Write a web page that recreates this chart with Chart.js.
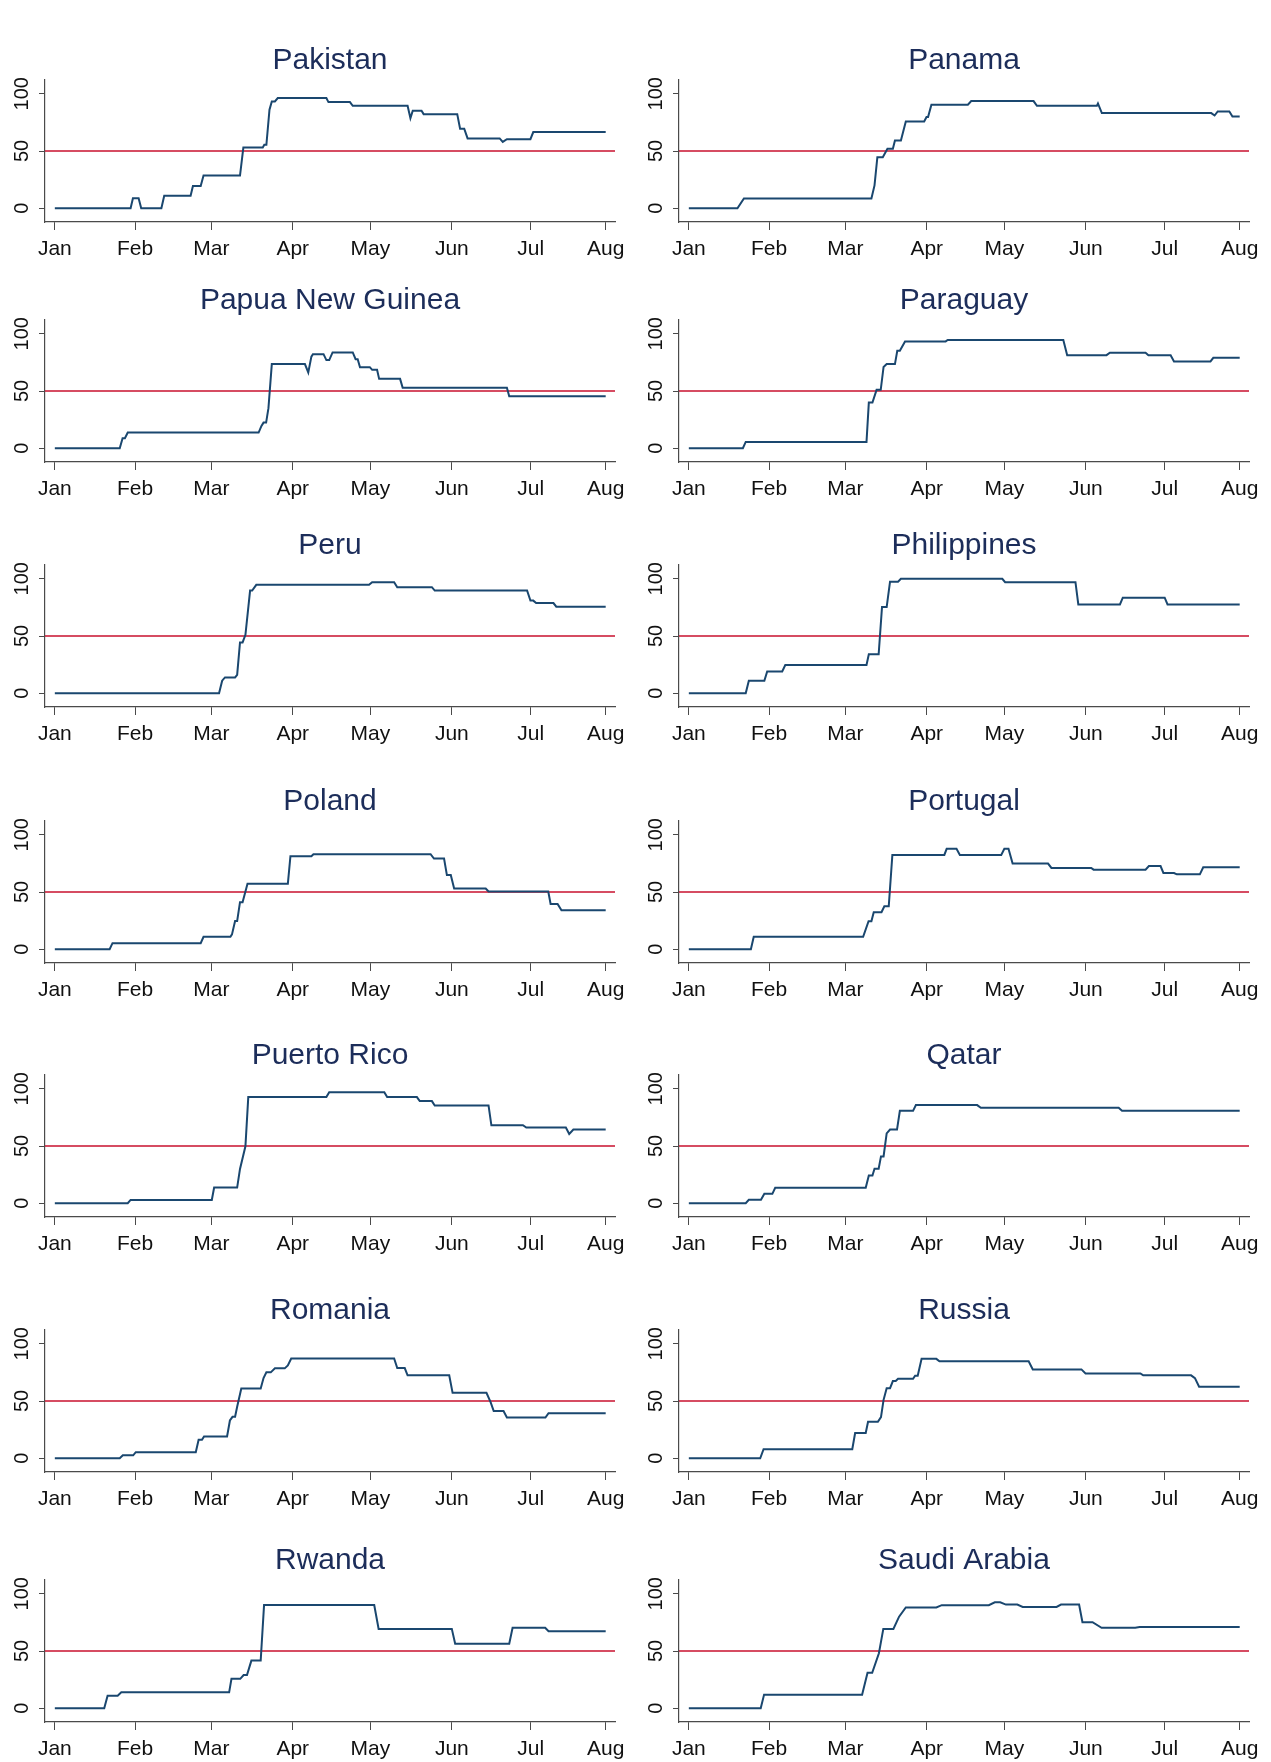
<!DOCTYPE html>
<html>
<head>
<meta charset="utf-8">
<script src="https://cdn.jsdelivr.net/npm/chart.js@4.4.0/dist/chart.umd.min.js"></script>
<style>
  body { margin: 0; background: #fff; }
  #page { position: relative; width: 1271px; height: 1762px; overflow: hidden; }
  #page canvas { position: absolute; }
</style>
</head>
<body>
<div id="page"></div>
<script>
// ---- data: day of year 2020 (0 = Jan 1) and index value ----
const countries = ['Pakistan', 'Panama', 'Papua New Guinea', 'Paraguay', 'Peru', 'Philippines', 'Poland',
  'Portugal', 'Puerto Rico', 'Qatar', 'Romania', 'Russia', 'Rwanda', 'Saudi Arabia'];

const monthTicks = [0, 31, 60.5, 92, 122, 153.5, 184, 213];
const monthLabels = ['Jan', 'Feb', 'Mar', 'Apr', 'May', 'Jun', 'Jul', 'Aug'];
const yTicks = [0, 50, 100];
const yTickLabels = ['0', '50', '100'];
const refValue = 50;

const pakistan = [[0,0],[29.3,0],[30.2,8.7],[32.4,8.7],[33.4,0],[41.2,0],[42.3,11],[52.5,11],[53.4,19.5],[56.4,19.5],[57.5,28.6],[71.6,28.6],[72.9,53],[80.4,53],[81,55.4],[81.8,55.4],[83,86],[83.9,93.3],[85.1,93.3],[86.2,96.2],[105,96.2],[105.8,92.7],[114.1,92.7],[115.2,89.5],[136.4,89.5],[137.5,78.7],[138.4,85.1],[141.8,85.1],[142.6,82.2],[155.6,82.2],[156.7,69.4],[158.3,69.4],[159.6,61],[172,61],[173.2,58],[174.8,60.3],[183.9,60.3],[185,66.5],[213,66.5]];
const panama = [[0,0],[18.8,0],[21.3,8.5],[70.6,8.5],[71.8,20],[72.9,44.6],[75,44.6],[76.8,51.9],[78.9,51.9],[79.7,59.2],[82,59.2],[83.9,75.8],[91,75.8],[91.9,79.6],[92.5,79.6],[93.8,90.4],[107.9,90.4],[109.2,93.6],[133.3,93.6],[134.6,89.5],[157.8,89.5],[158.2,91.5],[159.7,83.1],[202,83.1],[203.3,81],[204.5,84.5],[209,84.5],[210.2,80.2],[213,80.2]];
const papuaNewGuinea = [[0,0],[25.1,0],[26.2,8.7],[27.1,8.7],[28.2,13.7],[78.8,13.7],[79.9,19.5],[80.7,22.4],[81.7,22.4],[82.6,35],[83.9,73.5],[96.7,73.5],[98,66.2],[99.2,80],[99.8,82.2],[103.9,82.2],[105,77],[106.1,77],[107.4,83.7],[115.2,83.7],[116.3,77.8],[117.1,77.8],[118,70.8],[121.8,70.8],[122.7,68.5],[124.6,68.5],[125.4,60.6],[133.5,60.6],[134.5,52.8],[174.8,52.8],[175.7,45.5],[213,45.5]];
const paraguay = [[0,0],[20.9,0],[22,5.5],[68.7,5.5],[69.6,39.9],[71,39.9],[72.6,51],[74.2,51],[75.3,71],[76.5,73.5],[79.7,73.5],[80.6,85.1],[81.6,85.1],[83.6,93.3],[99.3,93.3],[100.1,94.5],[144.8,94.5],[146.3,81.3],[161.5,81.3],[162.8,83.4],[176.6,83.4],[177.7,81.3],[186.3,81.3],[187.6,75.8],[201.7,75.8],[202.8,79],[213,79]];
const peru = [[0,0],[63.5,0],[64.7,11],[65.8,13.8],[69.7,13.8],[70.5,16],[71.6,44.4],[72.6,44.4],[73.7,51],[75.5,89.7],[76.3,89.7],[77.9,94.7],[121.5,94.7],[122.7,97],[131.2,97],[132.4,92.6],[145.8,92.6],[146.9,89.7],[182.6,89.7],[183.9,80.9],[185,80.9],[186.1,78.8],[192.8,78.8],[193.9,75.6],[213,75.6]];
const philippines = [[0,0],[22,0],[23.2,10.9],[29.2,10.9],[30.3,19.1],[36.1,19.1],[37.3,24.7],[68.7,24.7],[69.6,34.1],[73.4,34.1],[74.7,75.3],[76.5,75.3],[77.8,97.4],[80.9,97.4],[82,100],[121.2,100],[122.3,97],[149.5,97],[150.6,77.6],[166.7,77.6],[167.8,83.5],[184,83.5],[185.1,77.6],[213,77.6]];
const poland = [[0,0],[21.2,0],[22.3,5.3],[56.4,5.3],[57.5,10.9],[67.9,10.9],[68.5,13],[69.7,24.6],[70.5,24.6],[71.6,41.1],[72.6,41.1],[74.5,57.2],[90.1,57.2],[91.1,81.2],[99.2,81.2],[100,83],[145.3,83],[146.6,79.2],[150.5,79.2],[151.6,64.8],[153.1,64.8],[154.4,53.1],[166.6,53.1],[167.7,50.4],[190.8,50.4],[191.7,39.6],[194.4,39.6],[195.9,34],[213,34]];
const portugal = [[0,0],[24,0],[25.1,10.9],[67.4,10.9],[69.5,24.5],[70.6,24.5],[71.5,32.3],[74.5,32.3],[75.6,37.5],[77.3,37.5],[78.7,82.4],[98.8,82.4],[99.7,87.7],[103.5,87.7],[104.8,82.4],[120.8,82.4],[122,87.7],[123.6,87.7],[125.2,74.8],[138.9,74.8],[140.2,71],[155.6,71],[156.5,69.5],[176.6,69.5],[177.9,72.7],[182.4,72.7],[183.5,66.6],[187.6,66.6],[188.7,65.4],[197.6,65.4],[198.9,71.6],[213,71.6]];
const puertoRico = [[0,0],[28.2,0],[29.3,2.9],[60.7,2.9],[61.6,13.7],[70.5,13.7],[71.6,30],[73.7,49.7],[74.8,92.7],[105,92.7],[106.1,97],[127.4,97],[128.5,92.7],[140,92.7],[141.1,89.2],[145.8,89.2],[146.9,85.4],[167.7,85.4],[168.8,68.1],[181,68.1],[182.3,66.1],[197.6,66.1],[198.9,60.5],[200.5,64.3],[213,64.3]];
const qatar = [[0,0],[22,0],[23.2,3],[27.9,3],[29.2,8.2],[32.3,8.2],[33.4,13.5],[68.4,13.5],[69.6,24.3],[71,24.3],[71.8,30.1],[73.4,30.1],[74.3,40.9],[75.3,40.9],[76.5,61],[77.8,64.3],[80.5,64.3],[81.6,80.7],[86.7,80.7],[87.8,85.7],[111.5,85.7],[112.9,83.3],[166.2,83.3],[167.5,80.7],[213,80.7]];
const romania = [[0,0],[25.1,0],[26.3,2.6],[30.3,2.6],[31.3,5.3],[54.5,5.3],[55.6,16.2],[56.9,16.2],[57.7,19.1],[66.6,19.1],[67.7,33],[68.7,36.2],[69.7,36.2],[70.5,45],[72.1,60.9],[79.6,60.9],[80.7,70],[81.8,75],[83.5,75],[85.1,78.5],[88.9,78.5],[90.1,81],[91.4,87.1],[131.2,87.1],[132.4,78.8],[135.3,78.8],[136.4,72.4],[152.5,72.4],[153.8,57.1],[166.9,57.1],[168.5,49],[169.7,41.2],[173.5,41.2],[174.8,35.6],[189.7,35.6],[190.9,39.4],[213,39.4]];
const russia = [[0,0],[27.6,0],[28.9,7.9],[63.2,7.9],[64.3,22],[68.4,22],[69.3,31.8],[73.1,31.8],[74.3,36],[75.3,51],[76.5,61.2],[77.8,61.2],[78.9,67.4],[80,67.4],[80.9,69.4],[86.7,69.4],[87.5,72.1],[88.5,72.1],[90,86.8],[95.7,86.8],[96.9,84.7],[131.4,84.7],[133,77.6],[151.8,77.6],[153.4,74.1],[174.6,74.1],[175.7,72.4],[194.2,72.4],[195.7,70],[197.3,62.4],[213,62.4]];
const rwanda = [[0,0],[19.1,0],[20.4,10.9],[24.3,10.9],[25.7,13.9],[67.4,13.9],[68.3,25.7],[71.7,25.7],[73,29],[74.3,29],[76,41.6],[79.6,41.6],[80.9,90.1],[123.5,90.1],[125.2,69.3],[153.5,69.3],[154.8,56.4],[175.7,56.4],[177,70.3],[189.6,70.3],[190.9,67.3],[213,67.3]];
const saudiArabia = [[0,0],[27.8,0],[29.1,11.9],[67,11.9],[69.1,31],[70.9,31],[73.5,48],[75.2,69.3],[79.1,69.3],[81.3,80],[83.9,88],[95.7,88],[97.8,90],[116,90],[118.3,92.5],[120.4,92.5],[122.6,90.5],[127,90.5],[129.1,88.5],[142.2,88.5],[143.9,90.5],[150.9,90.5],[152.2,75.2],[156.1,75.2],[159.6,70.3],[172.6,70.3],[174.3,71],[213,71]];

const series = [pakistan, panama, papuaNewGuinea, paraguay, peru, philippines, poland,
  portugal, puertoRico, qatar, romania, russia, rwanda, saudiArabia];

// ---- layout ----
const X_MIN = -3.8, X_MAX = 216.6, Y_MIN = -12, Y_MAX = 112;
const rowTops = [80, 320, 565, 821, 1075, 1330, 1580];   // chart area top of each row
const colX = [0, 635], colW = [635, 636];
const areaLeft = [45, 679], areaRight = [615, 1249];
const Y_TICK_LEN = 6, X_TICK_LEN = 8, X_TICK_PAD = 6, X_LABEL_LH = 27;
const TOP_BAND = 40, PLOT_H = 142, CANVAS_H = 230;

const LINE_COLOR = '#1a476f';
const REF_COLOR = '#c8102e';
const TITLE_COLOR = '#1c2d5a';
const AXIS_COLOR = '#4a4a4a';
const FAMILY = "'Liberation Sans', Arial, sans-serif";

// y labels are drawn rotated, reading bottom to top
const rotatedYLabels = {
  id: 'rotatedYLabels',
  afterDraw(chart) {
    const { ctx, chartArea, scales: { y } } = chart;
    ctx.save();
    ctx.font = '20px ' + FAMILY;
    ctx.fillStyle = '#111';
    ctx.textAlign = 'center';
    ctx.textBaseline = 'middle';
    yTicks.forEach((v, i) => {
      ctx.save();
      ctx.translate(chartArea.left - 23, y.getPixelForValue(v));
      ctx.rotate(-Math.PI / 2);
      ctx.fillText(yTickLabels[i], 0, 0);
      ctx.restore();
    });
    ctx.restore();
  }
};

const page = document.getElementById('page');

countries.forEach((name, i) => {
  const col = i % 2, row = Math.floor(i / 2);
  const canvas = document.createElement('canvas');
  canvas.width = colW[col];
  canvas.height = CANVAS_H;
  canvas.style.left = colX[col] + 'px';
  canvas.style.top = (rowTops[row] - TOP_BAND) + 'px';
  page.appendChild(canvas);

  new Chart(canvas, {
    type: 'line',
    data: {
      datasets: [
        {
          data: [{ x: X_MIN, y: refValue }, { x: X_MAX, y: refValue }],
          borderColor: REF_COLOR,
          borderWidth: 1.5,
          pointRadius: 0,
          order: 2
        },
        {
          data: series[i].map(p => ({ x: p[0], y: p[1] })),
          borderColor: LINE_COLOR,
          borderWidth: 2,
          pointRadius: 0,
          tension: 0,
          order: 1
        }
      ]
    },
    options: {
      responsive: false,
      animation: false,
      events: [],
      layout: {
        padding: {
          top: 0,
          bottom: CANVAS_H - TOP_BAND - PLOT_H - (X_TICK_LEN + 2 * X_TICK_PAD + X_LABEL_LH),
          left: areaLeft[col] - colX[col] - Y_TICK_LEN,
          right: colX[col] + colW[col] - areaRight[col]
        }
      },
      plugins: {
        legend: { display: false },
        tooltip: { enabled: false },
        title: {
          display: true,
          text: name,
          fullSize: false,
          color: TITLE_COLOR,
          font: { family: FAMILY, size: 30, weight: 'normal', lineHeight: 1 },
          padding: { top: 6, bottom: 4 }
        }
      },
      scales: {
        x: {
          type: 'linear',
          min: X_MIN,
          max: X_MAX,
          afterBuildTicks: (scale) => { scale.ticks = monthTicks.map(v => ({ value: v })); },
          ticks: {
            autoSkip: false,
            maxRotation: 0,
            padding: X_TICK_PAD,
            color: '#111',
            font: { family: FAMILY, size: 21, lineHeight: X_LABEL_LH + 'px' },
            callback: (v) => monthLabels[monthTicks.indexOf(v)]
          },
          grid: { drawOnChartArea: false, drawTicks: true, tickLength: X_TICK_LEN, color: AXIS_COLOR, lineWidth: 1 },
          border: { display: true, color: AXIS_COLOR, width: 1.2 }
        },
        y: {
          min: Y_MIN,
          max: Y_MAX,
          afterBuildTicks: (scale) => { scale.ticks = yTicks.map(v => ({ value: v })); },
          ticks: { display: false },
          grid: { drawOnChartArea: false, drawTicks: true, tickLength: Y_TICK_LEN, color: AXIS_COLOR, lineWidth: 1 },
          border: { display: true, color: AXIS_COLOR, width: 1.2 }
        }
      }
    },
    plugins: [rotatedYLabels]
  });
});
</script>
</body>
</html>
